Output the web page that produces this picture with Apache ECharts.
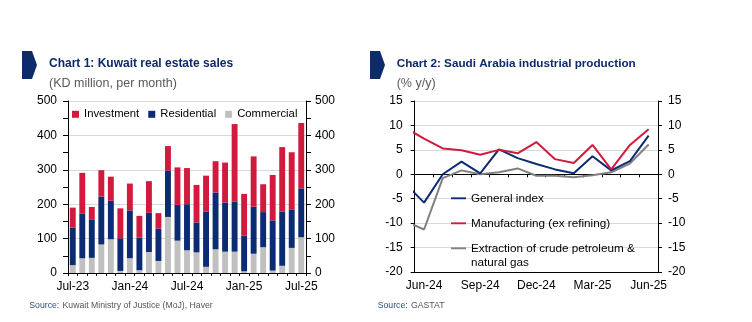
<!DOCTYPE html>
<html><head><meta charset="utf-8">
<script src="https://cdn.jsdelivr.net/npm/echarts@6/dist/echarts.min.js"></script>
<style>html,body{margin:0;padding:0;background:#fff}#c{width:752px;height:322px}</style>
</head><body><div id="c"></div>
<script>
// ---- Chart 1 data: Kuwait real estate sales (KD million) ----
const months1 = ['Jul-23','Aug-23','Sep-23','Oct-23','Nov-23','Dec-23','Jan-24','Feb-24','Mar-24','Apr-24','May-24','Jun-24','Jul-24','Aug-24','Sep-24','Oct-24','Nov-24','Dec-24','Jan-25','Feb-25','Mar-25','Apr-25','May-25','Jun-25','Jul-25'];
const commercial  = [23, 43, 44, 83, 98, 6, 43, 8, 61, 35, 163, 94, 66, 60, 18, 69, 62, 62, 5, 56, 75, 7, 21, 73, 104];
const residential = [109, 129, 112, 139, 112, 95, 139, 95, 114, 94, 135, 104, 134, 87, 161, 165, 143, 145, 104, 137, 102, 146, 158, 112, 142];
const investment  = [58, 119, 36, 77, 70, 87, 78, 63, 92, 45, 71, 109, 105, 109, 104, 91, 116, 226, 121, 146, 81, 132, 187, 166, 190];
const barNames = ['Investment', 'Residential', 'Commercial'];

// ---- Chart 2 data: Saudi Arabia industrial production (% y/y) ----
const months2 = ['May-24','Jun-24','Jul-24','Aug-24','Sep-24','Oct-24','Nov-24','Dec-24','Jan-25','Feb-25','Mar-25','Apr-25','May-25','Jun-25'];
const generalIndex  = [-1.9, -5.8, 0.0, 2.6, 0.2, 5.1, 3.3, 2.1, 1.0, 0.2, 3.7, 0.8, 2.7, 7.9];
const manufacturing = [9.5, 7.3, 5.3, 4.9, 4.0, 5.0, 4.3, 6.6, 3.1, 2.3, 6.0, 1.0, 6.0, 9.2];
const extraction    = [-9.6, -11.3, -0.8, 0.8, 0.0, 0.4, 1.2, -0.3, -0.3, -0.6, -0.2, 0.4, 2.2, 6.1];
const lineNames = ['General index', 'Manufacturing (ex refining)', 'Extraction of crude petroleum &\nnatural gas'];
const labelledMonths2 = ['Jun-24', 'Sep-24', 'Dec-24', 'Mar-25', 'Jun-25'];

const NAVY = '#0b2c72', RED = '#d11a3d', LGRAY = '#c0c0c0', DGRAY = '#808080';
const TITLE = '#0d2b6b';
const FONT = 'Liberation Sans, Arial, sans-serif';

const chart = echarts.init(document.getElementById('c'), null, {renderer: 'canvas'});

// position (in x value units) of each month in chart 2: May-24 sits one step before Jun-24
const xPos2 = months2.map((m, i) => i - 1);
const toXY = arr => arr.map((v, i) => [xPos2[i], v]);
const labelPos2 = labelledMonths2.map(m => xPos2[months2.indexOf(m)]);

const axisBlack = {lineStyle: {color: '#000', width: 1}};
const gridLine = {show: true, lineStyle: {color: '#d9d9d9', width: 1}};
const lineIcon = 'path://M0,0H16V2H0Z';
const legend2Text = {fontSize: 11.7, lineHeight: 14, color: '#000', fontFamily: FONT};

const option = {
  animation: false,
  backgroundColor: '#fff',
  textStyle: {fontFamily: FONT},
  grid: [
    {left: 68, top: 101, right: 446, bottom: 49, containLabel: false},
    {left: 414.7, top: 101, right: 94, bottom: 50, containLabel: false}
  ],
  legend: [
    {
      data: barNames, left: 72, top: 108.8, padding: 0, itemGap: 9,
      itemWidth: 7, itemHeight: 7, icon: 'rect',
      textStyle: {fontSize: 11.3, color: '#000', fontFamily: FONT}
    },
    {
      data: lineNames.slice(0, 2), orient: 'vertical', left: 451, top: 191.3, padding: 0, itemGap: 11,
      itemWidth: 15, itemHeight: 14, icon: lineIcon, symbolKeepAspect: true,
      textStyle: legend2Text
    },
    {
      data: lineNames.slice(2), orient: 'vertical', left: 451, top: 227.3, padding: 0,
      itemWidth: 15, itemHeight: 14, icon: lineIcon, symbolKeepAspect: true,
      formatter: n => '\n' + n,
      textStyle: legend2Text
    }
  ],
  xAxis: [
    {
      type: 'category', gridIndex: 0, data: months1,
      axisLine: axisBlack,
      axisTick: {show: true, interval: 0, length: 3, lineStyle: {color: '#000'}},
      axisLabel: {interval: 5, margin: 8, fontSize: 12, color: '#000'},
      splitLine: {show: false}
    },
    {
      type: 'value', gridIndex: 1, min: -0.5, max: 12.5, position: 'bottom',
      axisLine: {show: true, onZero: false, lineStyle: {color: '#000'}},
      axisTick: {show: false},
      axisLabel: {
        show: true, margin: 8, fontSize: 12, color: '#000',
        customValues: labelPos2,
        formatter: v => months2[xPos2.indexOf(Math.round(v))] || ''
      },
      splitLine: {show: false}
    },
    {
      type: 'value', gridIndex: 1, min: -0.5, max: 12.5, interval: 1, position: 'bottom',
      axisLine: {show: true, onZero: true, lineStyle: {color: '#000'}},
      axisTick: {show: true, length: 3, lineStyle: {color: '#000'}},
      axisLabel: {show: false},
      splitLine: {show: false}
    }
  ],
  yAxis: [
    {
      type: 'value', gridIndex: 0, min: 0, max: 500, interval: 100, position: 'left',
      axisLine: {show: true, onZero: false, lineStyle: {color: '#000'}},
      axisTick: {show: true, length: 5, lineStyle: {color: '#000'}},
      minorTick: {show: true, splitNumber: 2, length: 5, lineStyle: {color: '#000'}},
      axisLabel: {margin: 11, fontSize: 12, color: '#000'},
      splitLine: gridLine
    },
    {
      type: 'value', gridIndex: 0, min: 0, max: 500, interval: 100, position: 'right',
      axisLine: {show: true, onZero: false, lineStyle: {color: '#000'}},
      axisTick: {show: true, length: 5, lineStyle: {color: '#000'}},
      minorTick: {show: true, splitNumber: 2, length: 5, lineStyle: {color: '#000'}},
      axisLabel: {margin: 9, fontSize: 12, color: '#000'},
      splitLine: {show: false}
    },
    {
      type: 'value', gridIndex: 1, min: -20, max: 15, interval: 5, position: 'left',
      axisLine: {show: true, onZero: false, lineStyle: {color: '#000'}},
      axisTick: {show: true, length: 4, lineStyle: {color: '#000'}},
      axisLabel: {margin: 12, fontSize: 12, color: '#000'},
      splitLine: gridLine
    },
    {
      type: 'value', gridIndex: 1, min: -20, max: 15, interval: 5, position: 'right',
      axisLine: {show: true, onZero: false, lineStyle: {color: '#000'}},
      axisTick: {show: true, length: 4, lineStyle: {color: '#000'}},
      axisLabel: {margin: 10, fontSize: 12, color: '#000'},
      splitLine: {show: false}
    }
  ],
  series: [
    {name: 'Commercial', type: 'bar', stack: 's', xAxisIndex: 0, yAxisIndex: 0, data: commercial,
     itemStyle: {color: LGRAY}, barCategoryGap: '38%'},
    {name: 'Residential', type: 'bar', stack: 's', xAxisIndex: 0, yAxisIndex: 0, data: residential,
     itemStyle: {color: NAVY}, barCategoryGap: '38%'},
    {name: 'Investment', type: 'bar', stack: 's', xAxisIndex: 0, yAxisIndex: 0, data: investment,
     itemStyle: {color: RED}, barCategoryGap: '38%'},
    {name: lineNames[2], type: 'line', xAxisIndex: 1, yAxisIndex: 2, data: toXY(extraction),
     symbol: 'none', showSymbol: false, clip: true, lineStyle: {color: DGRAY, width: 2}, itemStyle: {color: DGRAY}},
    {name: lineNames[0], type: 'line', xAxisIndex: 1, yAxisIndex: 2, data: toXY(generalIndex),
     symbol: 'none', showSymbol: false, clip: true, lineStyle: {color: NAVY, width: 2}, itemStyle: {color: NAVY}},
    {name: lineNames[1], type: 'line', xAxisIndex: 1, yAxisIndex: 2, data: toXY(manufacturing),
     symbol: 'none', showSymbol: false, clip: true, lineStyle: {color: RED, width: 2}, itemStyle: {color: RED}}
  ],
  graphic: [
    {type: 'polygon', shape: {points: [[22,51],[32,51],[37,65],[32,79],[22,79]]}, style: {fill: TITLE}},
    {type: 'polygon', shape: {points: [[370,51],[380,51],[385,65],[380,79],[370,79]]}, style: {fill: TITLE}},
    {type: 'text', x: 49, y: 63.5, style: {text: 'Chart 1: Kuwait real estate sales', fill: TITLE,
      font: 'bold 12px ' + FONT, verticalAlign: 'middle'}},
    {type: 'text', x: 49, y: 83.5, style: {text: '(KD million, per month)', fill: '#595959',
      font: '12.5px ' + FONT, verticalAlign: 'middle'}},
    {type: 'text', x: 396.7, y: 63.5, style: {text: 'Chart 2: Saudi Arabia industrial production', fill: TITLE,
      font: 'bold 11.7px ' + FONT, verticalAlign: 'middle'}},
    {type: 'text', x: 396.7, y: 83.5, style: {text: '(% y/y)', fill: '#595959',
      font: '12.5px ' + FONT, verticalAlign: 'middle'}},
    {type: 'text', x: 29.3, y: 305.3, style: {text: '{a|Source:} {b|Kuwait Ministry of Justice (MoJ), Haver}',
      verticalAlign: 'middle', rich: {a: {fill: '#2f4a8a', fontSize: 8.7, fontFamily: FONT}, b: {fill: '#555', fontSize: 8.7, fontFamily: FONT}}}},
    {type: 'text', x: 377.7, y: 305.3, style: {text: '{a|Source:} {b|GASTAT}',
      verticalAlign: 'middle', rich: {a: {fill: '#2f4a8a', fontSize: 8.7, fontFamily: FONT}, b: {fill: '#555', fontSize: 8.7, fontFamily: FONT}}}}
  ]
};
chart.setOption(option);
</script>
</body></html>
